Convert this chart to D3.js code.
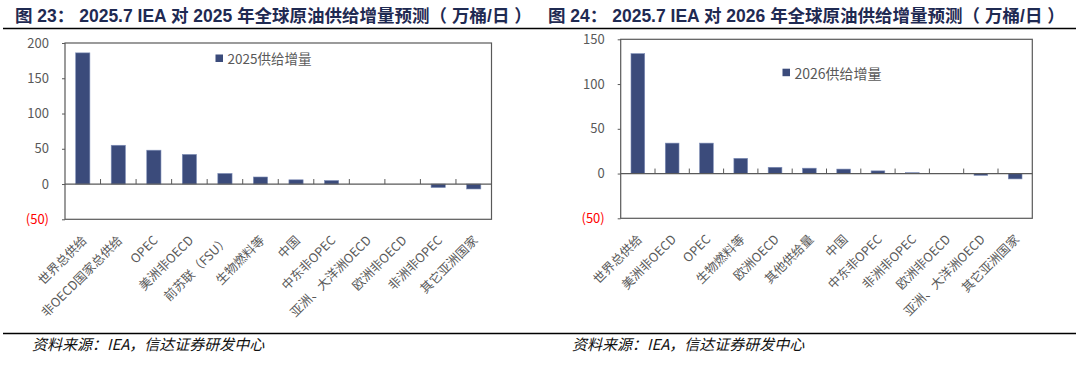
<!DOCTYPE html>
<html>
<head>
<meta charset="utf-8">
<script src="https://cdn.jsdelivr.net/npm/d3@7"></script>
<style>
  html, body { margin: 0; padding: 0; background: #fff; }
  svg { display: block; }
  .tick-lbl { font-family: "Noto Sans CJK SC", "Noto Sans", sans-serif; font-size: 13px; fill: #595959; }
  .cat-lbl { font-family: "Noto Sans CJK SC", sans-serif; font-size: 12.5px; fill: #595959; }
  .legend-lbl { font-family: "Noto Sans CJK SC", sans-serif; fill: #595959; }
  .source { font-family: "Noto Sans CJK SC", sans-serif; font-size: 15px; font-style: italic; fill: #111; }
</style>
</head>
<body>
<svg id="chart" width="1079" height="368"></svg>
<script>
  "use strict";

  // ---- data ----
  const cats2025 = ["世界总供给", "非OECD国家总供给", "OPEC", "美洲非OECD", "前苏联（FSU）", "生物燃料等",
    "中国", "中东非OPEC", "亚洲、大洋洲OECD", "欧洲非OECD", "非洲非OPEC", "其它亚洲国家"];
  const vals2025 = [186, 55, 48, 42, 15, 10, 6, 5, 0, 0, -5, -7];
  const ticks2025 = [200, 150, 100, 50, 0, -50];

  const cats2026 = ["世界总供给", "美洲非OECD", "OPEC", "生物燃料等", "欧洲OECD", "其他供给量",
    "中国", "中东非OPEC", "非洲非OPEC", "欧洲非OECD", "亚洲、大洋洲OECD", "其它亚洲国家"];
  const vals2026 = [134, 34, 34, 17, 7, 6, 5, 3, 1, 0, -2, -6];
  const ticks2026 = [150, 100, 50, 0, -50];

  const BAR = "#3b4b7b";
  const AXIS = "#595959";
  const NAVY = "#1f2a52";

  const svg = d3.select("#chart");
  svg.append("rect").attr("width", 1079).attr("height", 368).attr("fill", "#fff");

  // title: latin parts bold Arial-like, CJK parts in CJK font
  function title(x, parts) {
    const t = svg.append("text").attr("x", x).attr("y", 22).attr("fill", NAVY)
      .attr("font-size", 17.5).attr("font-weight", "bold").attr("xml:space", "preserve");
    parts.forEach((p) => {
      t.append("tspan")
        .attr("font-family", p[1] ? "'Liberation Sans', Arial, sans-serif" : "'Noto Sans CJK SC', sans-serif")
        .text(p[0]);
    });
  }

  function panel(o) {
    const y = d3.scaleLinear().domain(o.domain).range([o.y1, o.y0]);
    const x = d3.scaleBand().domain(o.cats).range([o.x0, o.x1]).paddingInner(0.6).paddingOuter(0.3);
    const g = svg.append("g");

    // frame
    g.append("rect")
      .attr("x", o.x0).attr("y", o.y0)
      .attr("width", o.x1 - o.x0).attr("height", o.y1 - o.y0)
      .attr("fill", "none").attr("stroke", AXIS).attr("stroke-width", 1.2);

    // bars
    g.append("g").selectAll("rect")
      .data(o.cats.map((c, i) => ({ c, v: o.vals[i] })).filter((d) => d.v !== 0))
      .join("rect")
      .attr("x", (d) => x(d.c))
      .attr("width", x.bandwidth())
      .attr("y", (d) => y(Math.max(0, d.v)))
      .attr("height", (d) => Math.abs(y(d.v) - y(0)))
      .attr("fill", BAR)
      .attr("stroke", "#7f8fb8").attr("stroke-width", 0.6);

    // zero line + inward ticks at category boundaries
    g.append("line")
      .attr("x1", o.x0).attr("x2", o.x1)
      .attr("y1", y(0)).attr("y2", y(0))
      .attr("stroke", AXIS).attr("stroke-width", 1.2);
    g.append("g").selectAll("line")
      .data(o.cats.slice(1))
      .join("line")
      .attr("x1", (c) => x(c) - (x.step() - x.bandwidth()) / 2)
      .attr("x2", (c) => x(c) - (x.step() - x.bandwidth()) / 2)
      .attr("y1", y(0)).attr("y2", y(0) - 5)
      .attr("stroke", AXIS).attr("stroke-width", 1);

    // y axis
    const ya = g.append("g")
      .attr("transform", `translate(${o.x0},0)`)
      .call(d3.axisLeft(y).tickValues(o.ticks).tickSize(3).tickPadding(13)
        .tickFormat((v) => (v < 0 ? `(${-v})` : v)));
    ya.select(".domain").remove();
    ya.selectAll(".tick line").attr("stroke", AXIS);
    ya.selectAll(".tick text")
      .attr("class", "tick-lbl")
      .attr("font-family", null).attr("font-size", null)
      .style("fill", (v) => (v < 0 ? "#ff0000" : "#595959"));

    // category labels
    g.append("g").selectAll("text")
      .data(o.cats)
      .join("text")
      .attr("class", "cat-lbl")
      .attr("text-anchor", "end")
      .attr("dominant-baseline", "central")
      .attr("transform", (c) => `translate(${x(c) + x.bandwidth() / 2 + 1},${o.y1 + 18}) rotate(-45)`)
      .text((c) => c);

    // legend
    g.append("rect")
      .attr("x", o.lx).attr("y", o.ly - 3.8)
      .attr("width", 7.5).attr("height", 7.5)
      .attr("fill", BAR);
    g.append("text")
      .attr("class", "legend-lbl")
      .attr("x", o.lx + 12).attr("y", o.ly)
      .attr("dominant-baseline", "central")
      .attr("font-size", o.lfs)
      .text(o.legend);
  }

  title(15, [["图", 0], [" 23", 1], ["：", 0], [" 2025.7 IEA ", 1], ["对", 0], [" 2025 ", 1],
    ["年全球原油供给增量预测（", 0], [" ", 1], ["万桶", 0], ["/", 1], ["日", 0], [" ", 1], ["）", 0]]);
  title(548, [["图", 0], [" 24", 1], ["：", 0], [" 2025.7 IEA ", 1], ["对", 0], [" 2026 ", 1],
    ["年全球原油供给增量预测（", 0], [" ", 1], ["万桶", 0], ["/", 1], ["日", 0], [" ", 1], ["）", 0]]);

  // rules under titles and above sources
  [28.5, 333.5].forEach((yy) => {
    svg.append("line").attr("x1", 3).attr("x2", 1076).attr("y1", yy).attr("y2", yy)
      .attr("stroke", "#000").attr("stroke-width", 1.4);
  });

  panel({ cats: cats2025, vals: vals2025, ticks: ticks2025, domain: [-50, 200],
    x0: 65, x1: 491.5, y0: 43, y1: 219.3,
    lx: 215.5, ly: 58.3, lfs: 13.5, legend: "2025供给增量" });
  panel({ cats: cats2026, vals: vals2026, ticks: ticks2026, domain: [-50, 150],
    x0: 620.7, x1: 1032.3, y0: 39.3, y1: 218.3,
    lx: 782.5, ly: 72.5, lfs: 14, legend: "2026供给增量" });

  svg.append("text").attr("class", "source").attr("x", 32).attr("y", 350).text("资料来源：IEA，信达证券研发中心");
  svg.append("text").attr("class", "source").attr("x", 572).attr("y", 350).text("资料来源：IEA，信达证券研发中心");
</script>
</body>
</html>
